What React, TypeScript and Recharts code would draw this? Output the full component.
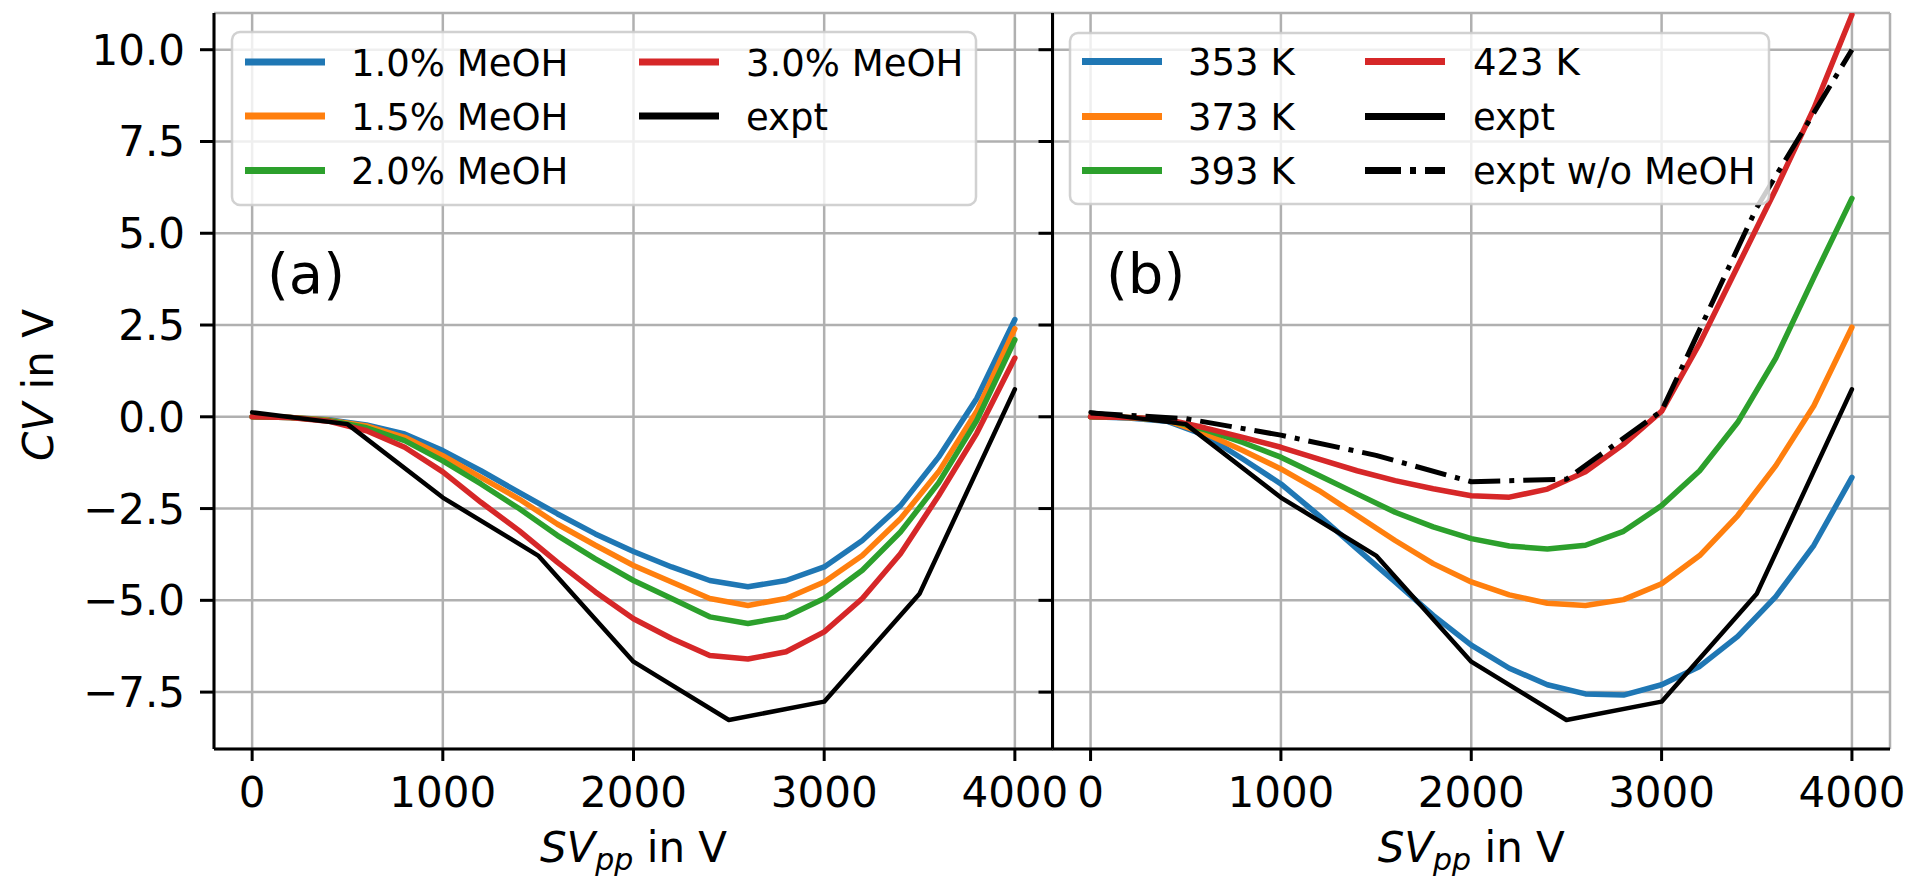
import React from 'react';
import { LineChart, Line, XAxis, YAxis, CartesianGrid, Label } from 'recharts';

// ---------- data ----------
const svSim = [0, 200, 400, 600, 800, 1000, 1200, 1400, 1600, 1800, 2000, 2200, 2400, 2600, 2800, 3000, 3200, 3400, 3600, 3800, 4000];
const svExpt = [0, 500, 1000, 1500, 2000, 2500, 3000, 3500, 4000];

// panel (a): methanol content
const meoh10 = [0, -0.02, -0.08, -0.22, -0.47, -0.92, -1.47, -2.06, -2.64, -3.19, -3.67, -4.09, -4.46, -4.63, -4.46, -4.09, -3.37, -2.42, -1.1, 0.5, 2.65];
const meoh15 = [0, -0.02, -0.09, -0.25, -0.56, -1.06, -1.65, -2.24, -2.92, -3.5, -4.05, -4.5, -4.95, -5.14, -4.95, -4.5, -3.78, -2.78, -1.5, 0.15, 2.4];
const meoh20 = [0, -0.02, -0.1, -0.3, -0.65, -1.2, -1.83, -2.5, -3.23, -3.87, -4.46, -4.95, -5.45, -5.63, -5.45, -4.95, -4.18, -3.14, -1.8, -0.1, 2.1];
const meoh30 = [0, -0.02, -0.12, -0.38, -0.83, -1.5, -2.33, -3.1, -3.96, -4.77, -5.5, -6.04, -6.5, -6.6, -6.4, -5.86, -4.95, -3.73, -2.15, -0.45, 1.6];

// panel (b): temperature
const k353 = [0, -0.03, -0.12, -0.5, -1.15, -1.83, -2.69, -3.6, -4.5, -5.41, -6.22, -6.85, -7.3, -7.55, -7.58, -7.3, -6.8, -5.98, -4.9, -3.5, -1.65];
const k373 = [0, -0.02, -0.1, -0.45, -0.92, -1.42, -2.01, -2.69, -3.37, -4.0, -4.5, -4.85, -5.08, -5.14, -4.98, -4.55, -3.78, -2.69, -1.33, 0.3, 2.44];
const k393 = [0, -0.02, -0.08, -0.35, -0.7, -1.1, -1.6, -2.1, -2.6, -3.0, -3.32, -3.52, -3.6, -3.5, -3.12, -2.42, -1.47, -0.15, 1.6, 3.8, 5.95];
const k423 = [0, -0.02, -0.07, -0.3, -0.56, -0.83, -1.15, -1.47, -1.74, -1.96, -2.15, -2.19, -1.97, -1.5, -0.75, 0.15, 2.0, 4.1, 6.2, 8.4, 10.95];

// experiments
const expt = [0.12, -0.2, -2.2, -3.78, -6.67, -8.26, -7.76, -4.82, 0.75];
const exptNoMeoh = [0.1, -0.05, -0.5, -1.05, -1.77, -1.7, 0.16, 5.7, 10.0];

const xTicks = [0, 1000, 2000, 3000, 4000];
const xTickLabels = ['0', '1000', '2000', '3000', '4000'];
const yTicks = [-7.5, -5, -2.5, 0, 2.5, 5, 7.5, 10];
const yTickLabels = ['\u22127.5', '\u22125.0', '\u22122.5', '0.0', '2.5', '5.0', '7.5', '10.0'];
const xDomain = [-200, 4200];
const yDomain = [-9.05, 11.0];
const panelLabels = ['(a)', '(b)'];
const namesA = ['1.0% MeOH', '1.5% MeOH', '2.0% MeOH', '3.0% MeOH', 'expt'];
const namesB = ['353 K', '373 K', '393 K', '423 K', 'expt', 'expt w/o MeOH'];

// ---------- styling ----------
const FONT = '"DejaVu Sans", Verdana, sans-serif';
const C_BLUE = '#1f77b4';
const C_ORANGE = '#ff7f0e';
const C_GREEN = '#2ca02c';
const C_RED = '#d62728';
const C_BLACK = '#000000';
const GRID = '#b0b0b0';

type Series = { name: string; color: string; width: number; dash?: string; legendDash?: string; xs: number[]; ys: number[] };

const toPts = (xs: number[], ys: number[]) => xs.map((x, i) => ({ x, y: ys[i] }));

const seriesA: Series[] = [
  { name: namesA[0], color: C_BLUE, width: 5.5, xs: svSim, ys: meoh10 },
  { name: namesA[1], color: C_ORANGE, width: 5.5, xs: svSim, ys: meoh15 },
  { name: namesA[2], color: C_GREEN, width: 5.5, xs: svSim, ys: meoh20 },
  { name: namesA[3], color: C_RED, width: 5.5, xs: svSim, ys: meoh30 },
  { name: namesA[4], color: C_BLACK, width: 4.5, xs: svExpt, ys: expt },
];

const seriesB: Series[] = [
  { name: namesB[0], color: C_BLUE, width: 5.5, xs: svSim, ys: k353 },
  { name: namesB[1], color: C_ORANGE, width: 5.5, xs: svSim, ys: k373 },
  { name: namesB[2], color: C_GREEN, width: 5.5, xs: svSim, ys: k393 },
  { name: namesB[3], color: C_RED, width: 5.5, xs: svSim, ys: k423 },
  { name: namesB[4], color: C_BLACK, width: 4.5, xs: svExpt, ys: expt },
  { name: namesB[5], color: C_BLACK, width: 5, dash: '32 9 5 9', legendDash: '36 9 6 9', xs: svExpt, ys: exptNoMeoh },
];

const XTick = (props: any) => {
  const { x, y, payload } = props;
  const idx = xTicks.indexOf(payload.value);
  return (
    <text x={x} y={y + 44} textAnchor="middle" fontFamily={FONT} fontSize={42} fill="#000">
      {idx >= 0 ? xTickLabels[idx] : String(payload.value)}
    </text>
  );
};

const YTick = (props: any) => {
  const { x, y, payload } = props;
  const idx = yTicks.indexOf(payload.value);
  return (
    <text x={x - 13} y={y + 15} textAnchor="end" fontFamily={FONT} fontSize={42} fill="#000">
      {idx >= 0 ? yTickLabels[idx] : String(payload.value)}
    </text>
  );
};

const EmptyTick = () => <g />;

const XLabel = (props: any) => {
  const vb = props.viewBox || { x: 214, y: 749, width: 839, height: 129 };
  const cx = vb.x + vb.width / 2;
  return (
    <text x={cx} y={vb.y + 113} textAnchor="middle" fontFamily={FONT} fontSize={42} fill="#000" style={{ whiteSpace: 'pre' }}>
      <tspan fontStyle="italic">SV</tspan>
      <tspan fontStyle="italic" fontSize={30} dy={8}>pp</tspan>
      <tspan dy={-8}>{' in V'}</tspan>
    </text>
  );
};

const YLabel = (props: any) => {
  const vb = props.viewBox || { x: 0, y: 13, width: 214, height: 736 };
  const cy = vb.y + vb.height / 2 + 4;
  const cx = vb.x + 53;
  return (
    <text transform={`translate(${cx},${cy}) rotate(-90)`} textAnchor="middle" fontFamily={FONT} fontSize={42} fill="#000" style={{ whiteSpace: 'pre' }}>
      <tspan fontStyle="italic">CV</tspan>
      <tspan>{' in V'}</tspan>
    </text>
  );
};

type PanelProps = {
  series: Series[];
  left: number;
  width: number;
  marginRight: number;
  yAxisWidth: number;
  showYLabels: boolean;
};

const Panel = ({ series, left, width, marginRight, yAxisWidth, showYLabels }: PanelProps) => (
  <div style={{ position: 'absolute', left, top: 0, width, height: 878 }}>
    <LineChart width={width} height={878} margin={{ top: 13, right: marginRight, bottom: 0, left: 0 }} style={{ overflow: 'visible' }}>
      <CartesianGrid stroke={GRID} strokeWidth={2.5} horizontal vertical />
      <XAxis
        dataKey="x"
        type="number"
        domain={xDomain}
        ticks={xTicks}
        interval={0}
        allowDataOverflow
        height={129}
        tickSize={12}
        tickMargin={2}
        tickLine={{ stroke: '#000', strokeWidth: 3 }}
        axisLine={{ stroke: '#000', strokeWidth: 3 }}
        tick={<XTick />}
      >
        <Label content={<XLabel />} />
      </XAxis>
      <XAxis
        xAxisId="top"
        orientation="top"
        type="number"
        domain={xDomain}
        allowDataOverflow
        height={0}
        tick={false}
        tickLine={false}
        axisLine={{ stroke: '#000', strokeWidth: 3 }}
      />
      <YAxis
        type="number"
        domain={yDomain}
        ticks={yTicks}
        interval={0}
        allowDataOverflow
        width={yAxisWidth}
        tickSize={14}
        tickMargin={2}
        tickLine={{ stroke: '#000', strokeWidth: 3 }}
        axisLine={{ stroke: '#000', strokeWidth: 3 }}
        tick={showYLabels ? <YTick /> : <EmptyTick />}
      >
        {showYLabels ? <Label content={<YLabel />} /> : null}
      </YAxis>
      <YAxis
        yAxisId="right"
        orientation="right"
        type="number"
        domain={yDomain}
        allowDataOverflow
        width={0}
        tick={false}
        tickLine={false}
        axisLine={{ stroke: '#000', strokeWidth: 3 }}
      />
      {series.map((s) => (
        <Line
          key={s.name}
          data={toPts(s.xs, s.ys)}
          dataKey="y"
          name={s.name}
          type="linear"
          stroke={s.color}
          strokeWidth={s.width}
          strokeDasharray={s.dash}
          strokeLinejoin="round"
          strokeLinecap={s.dash ? 'butt' : 'round'}
          dot={false}
          activeDot={false}
          isAnimationActive={false}
        />
      ))}
    </LineChart>
  </div>
);

type LegendBox = { x: number; y: number; w: number; h: number; cols: { hx: number; tx: number }[]; rows: number[] };

const legendBoxA: LegendBox = { x: 232, y: 32, w: 744, h: 173, cols: [{ hx: 245, tx: 351 }, { hx: 639, tx: 746 }], rows: [62, 116, 170.5] };
const legendBoxB: LegendBox = { x: 1070, y: 33, w: 699, h: 171, cols: [{ hx: 1082, tx: 1188 }, { hx: 1365, tx: 1473 }], rows: [61.5, 116.5, 170.5] };

const LegendOverlay = ({ box, series }: { box: LegendBox; series: Series[] }) => (
  <g>
    <rect x={box.x} y={box.y} width={box.w} height={box.h} rx={8} ry={8} fill="#fff" fillOpacity={0.8} stroke="#cccccc" strokeOpacity={0.9} strokeWidth={2.5} />
    {series.map((s, i) => {
      const col = box.cols[Math.floor(i / 3)];
      const ry = box.rows[i % 3];
      return (
        <g key={s.name}>
          <line x1={col.hx} x2={col.hx + 80} y1={ry} y2={ry} stroke={s.color} strokeWidth={7} strokeDasharray={s.legendDash} />
          <text x={col.tx} y={ry + 13.5} fontFamily={FONT} fontSize={37} fill="#000">{s.name}</text>
        </g>
      );
    })}
  </g>
);

export default function App() {
  return (
    <div style={{ position: 'absolute', left: 0, top: 0, width: 1911, height: 878, background: '#fff', overflow: 'hidden' }}>
      <Panel series={seriesA} left={0} width={1100} marginRight={47} yAxisWidth={214} showYLabels />
      <Panel series={seriesB} left={1000} width={911} marginRight={21} yAxisWidth={52.5} showYLabels={false} />
      <svg width={1911} height={878} style={{ position: 'absolute', left: 0, top: 0, pointerEvents: 'none' }}>
        <text x={267} y={293} fontFamily={FONT} fontSize={56} fill="#000">{panelLabels[0]}</text>
        <text x={1106} y={293} fontFamily={FONT} fontSize={56} fill="#000">{panelLabels[1]}</text>
        <LegendOverlay box={legendBoxA} series={seriesA} />
        <LegendOverlay box={legendBoxB} series={seriesB} />
      </svg>
    </div>
  );
}
